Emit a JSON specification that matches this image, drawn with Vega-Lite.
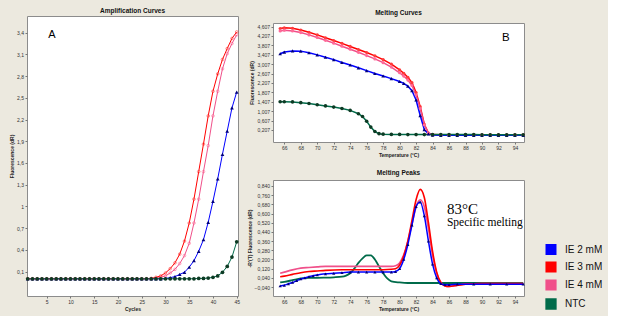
{
"$schema": "https://vega.github.io/schema/vega-lite/v6.json",
"background": "#ece9df",
"padding": {"left": 9, "top": 7, "right": 5, "bottom": 3},
"bounds": "flush",
"spacing": 35,
"datasets": {
"amp": [
{"s":"IE 4 mM","c":1,"v":0},{"s":"IE 4 mM","c":2,"v":0},{"s":"IE 4 mM","c":3,"v":0},{"s":"IE 4 mM","c":4,"v":0},{"s":"IE 4 mM","c":5,"v":0},{"s":"IE 4 mM","c":6,"v":0},{"s":"IE 4 mM","c":7,"v":0},{"s":"IE 4 mM","c":8,"v":0},{"s":"IE 4 mM","c":9,"v":0},{"s":"IE 4 mM","c":10,"v":0},
{"s":"IE 4 mM","c":11,"v":0},{"s":"IE 4 mM","c":12,"v":0},{"s":"IE 4 mM","c":13,"v":0},{"s":"IE 4 mM","c":14,"v":0},{"s":"IE 4 mM","c":15,"v":0},{"s":"IE 4 mM","c":16,"v":0},{"s":"IE 4 mM","c":17,"v":0},{"s":"IE 4 mM","c":18,"v":0},{"s":"IE 4 mM","c":19,"v":0},{"s":"IE 4 mM","c":20,"v":0},
{"s":"IE 4 mM","c":21,"v":0},{"s":"IE 4 mM","c":22,"v":0},{"s":"IE 4 mM","c":23,"v":0},{"s":"IE 4 mM","c":24,"v":0},{"s":"IE 4 mM","c":25,"v":0},{"s":"IE 4 mM","c":26,"v":0},{"s":"IE 4 mM","c":27,"v":0},{"s":"IE 4 mM","c":28,"v":0.005},{"s":"IE 4 mM","c":29,"v":0.02},{"s":"IE 4 mM","c":30,"v":0.04},
{"s":"IE 4 mM","c":31,"v":0.08},{"s":"IE 4 mM","c":32,"v":0.13},{"s":"IE 4 mM","c":33,"v":0.21},{"s":"IE 4 mM","c":34,"v":0.32},{"s":"IE 4 mM","c":35,"v":0.49},{"s":"IE 4 mM","c":36,"v":0.77},{"s":"IE 4 mM","c":37,"v":1.10},{"s":"IE 4 mM","c":38,"v":1.48},{"s":"IE 4 mM","c":39,"v":1.84},{"s":"IE 4 mM","c":40,"v":2.25},
{"s":"IE 4 mM","c":41,"v":2.59},{"s":"IE 4 mM","c":42,"v":2.90},{"s":"IE 4 mM","c":43,"v":3.11},{"s":"IE 4 mM","c":44,"v":3.25},{"s":"IE 4 mM","c":45,"v":3.37},
{"s":"IE 3 mM","c":1,"v":0},{"s":"IE 3 mM","c":2,"v":0},{"s":"IE 3 mM","c":3,"v":0},{"s":"IE 3 mM","c":4,"v":0},{"s":"IE 3 mM","c":5,"v":0},{"s":"IE 3 mM","c":6,"v":0},{"s":"IE 3 mM","c":7,"v":0},{"s":"IE 3 mM","c":8,"v":0},{"s":"IE 3 mM","c":9,"v":0},{"s":"IE 3 mM","c":10,"v":0},
{"s":"IE 3 mM","c":11,"v":0},{"s":"IE 3 mM","c":12,"v":0},{"s":"IE 3 mM","c":13,"v":0},{"s":"IE 3 mM","c":14,"v":0},{"s":"IE 3 mM","c":15,"v":0},{"s":"IE 3 mM","c":16,"v":0},{"s":"IE 3 mM","c":17,"v":0},{"s":"IE 3 mM","c":18,"v":0},{"s":"IE 3 mM","c":19,"v":0},{"s":"IE 3 mM","c":20,"v":0},
{"s":"IE 3 mM","c":21,"v":0},{"s":"IE 3 mM","c":22,"v":0},{"s":"IE 3 mM","c":23,"v":0},{"s":"IE 3 mM","c":24,"v":0},{"s":"IE 3 mM","c":25,"v":0},{"s":"IE 3 mM","c":26,"v":0},{"s":"IE 3 mM","c":27,"v":0.005},{"s":"IE 3 mM","c":28,"v":0.02},{"s":"IE 3 mM","c":29,"v":0.04},{"s":"IE 3 mM","c":30,"v":0.08},
{"s":"IE 3 mM","c":31,"v":0.14},{"s":"IE 3 mM","c":32,"v":0.22},{"s":"IE 3 mM","c":33,"v":0.34},{"s":"IE 3 mM","c":34,"v":0.52},{"s":"IE 3 mM","c":35,"v":0.77},{"s":"IE 3 mM","c":36,"v":1.10},{"s":"IE 3 mM","c":37,"v":1.48},{"s":"IE 3 mM","c":38,"v":1.86},{"s":"IE 3 mM","c":39,"v":2.25},{"s":"IE 3 mM","c":40,"v":2.59},
{"s":"IE 3 mM","c":41,"v":2.83},{"s":"IE 3 mM","c":42,"v":3.03},{"s":"IE 3 mM","c":43,"v":3.18},{"s":"IE 3 mM","c":44,"v":3.32},{"s":"IE 3 mM","c":45,"v":3.41},
{"s":"IE 2 mM","c":1,"v":0},{"s":"IE 2 mM","c":2,"v":0},{"s":"IE 2 mM","c":3,"v":0},{"s":"IE 2 mM","c":4,"v":0},{"s":"IE 2 mM","c":5,"v":0},{"s":"IE 2 mM","c":6,"v":0},{"s":"IE 2 mM","c":7,"v":0},{"s":"IE 2 mM","c":8,"v":0},{"s":"IE 2 mM","c":9,"v":0},{"s":"IE 2 mM","c":10,"v":0},
{"s":"IE 2 mM","c":11,"v":0},{"s":"IE 2 mM","c":12,"v":0},{"s":"IE 2 mM","c":13,"v":0},{"s":"IE 2 mM","c":14,"v":0},{"s":"IE 2 mM","c":15,"v":0},{"s":"IE 2 mM","c":16,"v":0},{"s":"IE 2 mM","c":17,"v":0},{"s":"IE 2 mM","c":18,"v":0},{"s":"IE 2 mM","c":19,"v":0},{"s":"IE 2 mM","c":20,"v":0},
{"s":"IE 2 mM","c":21,"v":0},{"s":"IE 2 mM","c":22,"v":0},{"s":"IE 2 mM","c":23,"v":0},{"s":"IE 2 mM","c":24,"v":0},{"s":"IE 2 mM","c":25,"v":0},{"s":"IE 2 mM","c":26,"v":0},{"s":"IE 2 mM","c":27,"v":0},{"s":"IE 2 mM","c":28,"v":0},{"s":"IE 2 mM","c":29,"v":0},{"s":"IE 2 mM","c":30,"v":0.005},
{"s":"IE 2 mM","c":31,"v":0.015},{"s":"IE 2 mM","c":32,"v":0.03},{"s":"IE 2 mM","c":33,"v":0.06},{"s":"IE 2 mM","c":34,"v":0.09},{"s":"IE 2 mM","c":35,"v":0.16},{"s":"IE 2 mM","c":36,"v":0.25},{"s":"IE 2 mM","c":37,"v":0.38},{"s":"IE 2 mM","c":38,"v":0.54},{"s":"IE 2 mM","c":39,"v":0.78},{"s":"IE 2 mM","c":40,"v":1.07},
{"s":"IE 2 mM","c":41,"v":1.38},{"s":"IE 2 mM","c":42,"v":1.72},{"s":"IE 2 mM","c":43,"v":2.04},{"s":"IE 2 mM","c":44,"v":2.36},{"s":"IE 2 mM","c":45,"v":2.58},
{"s":"NTC","c":1,"v":0},{"s":"NTC","c":2,"v":0},{"s":"NTC","c":3,"v":0},{"s":"NTC","c":4,"v":0},{"s":"NTC","c":5,"v":0},{"s":"NTC","c":6,"v":0},{"s":"NTC","c":7,"v":0},{"s":"NTC","c":8,"v":0},{"s":"NTC","c":9,"v":0},{"s":"NTC","c":10,"v":0},
{"s":"NTC","c":11,"v":0},{"s":"NTC","c":12,"v":0},{"s":"NTC","c":13,"v":0},{"s":"NTC","c":14,"v":0},{"s":"NTC","c":15,"v":0},{"s":"NTC","c":16,"v":0},{"s":"NTC","c":17,"v":0},{"s":"NTC","c":18,"v":0},{"s":"NTC","c":19,"v":0},{"s":"NTC","c":20,"v":0},
{"s":"NTC","c":21,"v":0},{"s":"NTC","c":22,"v":0},{"s":"NTC","c":23,"v":0},{"s":"NTC","c":24,"v":0},{"s":"NTC","c":25,"v":0},{"s":"NTC","c":26,"v":0},{"s":"NTC","c":27,"v":0},{"s":"NTC","c":28,"v":0},{"s":"NTC","c":29,"v":0},{"s":"NTC","c":30,"v":0},
{"s":"NTC","c":31,"v":0},{"s":"NTC","c":32,"v":0},{"s":"NTC","c":33,"v":0},{"s":"NTC","c":34,"v":0},{"s":"NTC","c":35,"v":0},{"s":"NTC","c":36,"v":0},{"s":"NTC","c":37,"v":0.005},{"s":"NTC","c":38,"v":0.005},{"s":"NTC","c":39,"v":0.01},{"s":"NTC","c":40,"v":0.02},
{"s":"NTC","c":41,"v":0.04},{"s":"NTC","c":42,"v":0.09},{"s":"NTC","c":43,"v":0.17},{"s":"NTC","c":44,"v":0.30},{"s":"NTC","c":45,"v":0.51}
],
"melt": [
{"s":"IE 3 mM","t":65.5,"v":4.52},{"s":"IE 3 mM","t":66,"v":4.55},{"s":"IE 3 mM","t":67,"v":4.53},{"s":"IE 3 mM","t":68,"v":4.46},{"s":"IE 3 mM","t":69,"v":4.36},{"s":"IE 3 mM","t":70,"v":4.25},{"s":"IE 3 mM","t":71,"v":4.13},{"s":"IE 3 mM","t":72,"v":4.01},{"s":"IE 3 mM","t":73,"v":3.89},{"s":"IE 3 mM","t":74,"v":3.76},
{"s":"IE 3 mM","t":75,"v":3.63},{"s":"IE 3 mM","t":76,"v":3.50},{"s":"IE 3 mM","t":77,"v":3.36},{"s":"IE 3 mM","t":78,"v":3.20},{"s":"IE 3 mM","t":79,"v":3.01},{"s":"IE 3 mM","t":80,"v":2.76},{"s":"IE 3 mM","t":80.5,"v":2.62},{"s":"IE 3 mM","t":81,"v":2.45},{"s":"IE 3 mM","t":81.5,"v":2.22},{"s":"IE 3 mM","t":82,"v":1.80},
{"s":"IE 3 mM","t":82.5,"v":1.20},{"s":"IE 3 mM","t":83,"v":0.45},{"s":"IE 3 mM","t":83.5,"v":0.08},{"s":"IE 3 mM","t":84,"v":0.01},{"s":"IE 3 mM","t":85,"v":0},{"s":"IE 3 mM","t":86,"v":0},{"s":"IE 3 mM","t":87,"v":0},{"s":"IE 3 mM","t":88,"v":0},{"s":"IE 3 mM","t":89,"v":0},{"s":"IE 3 mM","t":90,"v":0},
{"s":"IE 3 mM","t":91,"v":0},{"s":"IE 3 mM","t":92,"v":0},{"s":"IE 3 mM","t":93,"v":0},{"s":"IE 3 mM","t":94,"v":0},{"s":"IE 3 mM","t":95,"v":0},
{"s":"IE 4 mM","t":65.5,"v":4.42},{"s":"IE 4 mM","t":66,"v":4.45},{"s":"IE 4 mM","t":67,"v":4.42},{"s":"IE 4 mM","t":68,"v":4.35},{"s":"IE 4 mM","t":69,"v":4.25},{"s":"IE 4 mM","t":70,"v":4.14},{"s":"IE 4 mM","t":71,"v":4.02},{"s":"IE 4 mM","t":72,"v":3.90},{"s":"IE 4 mM","t":73,"v":3.77},{"s":"IE 4 mM","t":74,"v":3.64},
{"s":"IE 4 mM","t":75,"v":3.51},{"s":"IE 4 mM","t":76,"v":3.37},{"s":"IE 4 mM","t":77,"v":3.23},{"s":"IE 4 mM","t":78,"v":3.07},{"s":"IE 4 mM","t":79,"v":2.88},{"s":"IE 4 mM","t":80,"v":2.64},{"s":"IE 4 mM","t":80.5,"v":2.50},{"s":"IE 4 mM","t":81,"v":2.33},{"s":"IE 4 mM","t":81.5,"v":2.10},{"s":"IE 4 mM","t":82,"v":1.70},
{"s":"IE 4 mM","t":82.5,"v":1.12},{"s":"IE 4 mM","t":83,"v":0.42},{"s":"IE 4 mM","t":83.5,"v":0.08},{"s":"IE 4 mM","t":84,"v":0},{"s":"IE 4 mM","t":85,"v":-0.01},{"s":"IE 4 mM","t":86,"v":-0.01},{"s":"IE 4 mM","t":87,"v":-0.01},{"s":"IE 4 mM","t":88,"v":-0.01},{"s":"IE 4 mM","t":89,"v":-0.01},{"s":"IE 4 mM","t":90,"v":-0.01},
{"s":"IE 4 mM","t":91,"v":-0.01},{"s":"IE 4 mM","t":92,"v":-0.01},{"s":"IE 4 mM","t":93,"v":-0.01},{"s":"IE 4 mM","t":94,"v":-0.01},{"s":"IE 4 mM","t":95,"v":-0.01},
{"s":"IE 2 mM","t":65.5,"v":3.45},{"s":"IE 2 mM","t":66,"v":3.52},{"s":"IE 2 mM","t":67,"v":3.57},{"s":"IE 2 mM","t":68,"v":3.56},{"s":"IE 2 mM","t":69,"v":3.49},{"s":"IE 2 mM","t":70,"v":3.40},{"s":"IE 2 mM","t":71,"v":3.30},{"s":"IE 2 mM","t":72,"v":3.20},{"s":"IE 2 mM","t":73,"v":3.08},{"s":"IE 2 mM","t":74,"v":2.97},
{"s":"IE 2 mM","t":75,"v":2.85},{"s":"IE 2 mM","t":76,"v":2.73},{"s":"IE 2 mM","t":77,"v":2.61},{"s":"IE 2 mM","t":78,"v":2.50},{"s":"IE 2 mM","t":79,"v":2.39},{"s":"IE 2 mM","t":80,"v":2.27},{"s":"IE 2 mM","t":80.5,"v":2.19},{"s":"IE 2 mM","t":81,"v":2.07},{"s":"IE 2 mM","t":81.5,"v":1.88},{"s":"IE 2 mM","t":82,"v":1.48},
{"s":"IE 2 mM","t":82.5,"v":0.82},{"s":"IE 2 mM","t":83,"v":0.22},{"s":"IE 2 mM","t":83.5,"v":0.04},{"s":"IE 2 mM","t":84,"v":-0.01},{"s":"IE 2 mM","t":85,"v":-0.02},{"s":"IE 2 mM","t":86,"v":-0.02},{"s":"IE 2 mM","t":87,"v":-0.02},{"s":"IE 2 mM","t":88,"v":-0.02},{"s":"IE 2 mM","t":89,"v":-0.02},{"s":"IE 2 mM","t":90,"v":-0.02},
{"s":"IE 2 mM","t":91,"v":-0.02},{"s":"IE 2 mM","t":92,"v":-0.02},{"s":"IE 2 mM","t":93,"v":-0.02},{"s":"IE 2 mM","t":94,"v":-0.02},{"s":"IE 2 mM","t":95,"v":-0.02},
{"s":"NTC","t":65.5,"v":1.41},{"s":"NTC","t":66,"v":1.41},{"s":"NTC","t":67,"v":1.40},{"s":"NTC","t":68,"v":1.37},{"s":"NTC","t":69,"v":1.33},{"s":"NTC","t":70,"v":1.28},{"s":"NTC","t":71,"v":1.23},{"s":"NTC","t":72,"v":1.18},{"s":"NTC","t":73,"v":1.12},{"s":"NTC","t":74,"v":1.04},
{"s":"NTC","t":75,"v":0.90},{"s":"NTC","t":75.5,"v":0.78},{"s":"NTC","t":76,"v":0.58},{"s":"NTC","t":76.5,"v":0.33},{"s":"NTC","t":77,"v":0.14},{"s":"NTC","t":77.5,"v":0.05},{"s":"NTC","t":78,"v":0.03},{"s":"NTC","t":79,"v":0.02},{"s":"NTC","t":80,"v":0.02},{"s":"NTC","t":81,"v":0.01},
{"s":"NTC","t":82,"v":0.01},{"s":"NTC","t":83,"v":0.01},{"s":"NTC","t":84,"v":0.01},{"s":"NTC","t":85,"v":0.01},{"s":"NTC","t":86,"v":0.01},{"s":"NTC","t":87,"v":0.01},{"s":"NTC","t":88,"v":0.01},{"s":"NTC","t":89,"v":0.01},{"s":"NTC","t":90,"v":0},{"s":"NTC","t":91,"v":0},
{"s":"NTC","t":92,"v":0},{"s":"NTC","t":93,"v":0},{"s":"NTC","t":94,"v":0},{"s":"NTC","t":95,"v":0}
],
"peak": [
{"s":"NTC","t":65.5,"v":0},{"s":"NTC","t":66,"v":0.005},{"s":"NTC","t":67,"v":0.02},{"s":"NTC","t":68,"v":0.035},{"s":"NTC","t":69,"v":0.04},{"s":"NTC","t":70,"v":0.04},{"s":"NTC","t":71,"v":0.042},{"s":"NTC","t":72,"v":0.045},{"s":"NTC","t":73,"v":0.05},{"s":"NTC","t":73.5,"v":0.06},
{"s":"NTC","t":74,"v":0.08},{"s":"NTC","t":74.5,"v":0.12},{"s":"NTC","t":75,"v":0.17},{"s":"NTC","t":75.5,"v":0.21},{"s":"NTC","t":76,"v":0.235},{"s":"NTC","t":76.5,"v":0.235},{"s":"NTC","t":77,"v":0.2},{"s":"NTC","t":77.5,"v":0.14},{"s":"NTC","t":78,"v":0.08},{"s":"NTC","t":78.5,"v":0.035},
{"s":"NTC","t":79,"v":0.01},{"s":"NTC","t":80,"v":0},{"s":"NTC","t":81,"v":-0.005},{"s":"NTC","t":83,"v":-0.005},{"s":"NTC","t":85,"v":-0.005},{"s":"NTC","t":87,"v":-0.005},{"s":"NTC","t":89,"v":-0.005},{"s":"NTC","t":91,"v":-0.005},{"s":"NTC","t":93,"v":-0.005},{"s":"NTC","t":95,"v":-0.005},
{"s":"IE 4 mM","t":65.5,"v":0.08},{"s":"IE 4 mM","t":66,"v":0.09},{"s":"IE 4 mM","t":67,"v":0.11},{"s":"IE 4 mM","t":68,"v":0.125},{"s":"IE 4 mM","t":69,"v":0.13},{"s":"IE 4 mM","t":70,"v":0.135},{"s":"IE 4 mM","t":71,"v":0.14},{"s":"IE 4 mM","t":73,"v":0.14},{"s":"IE 4 mM","t":75,"v":0.14},{"s":"IE 4 mM","t":77,"v":0.14},
{"s":"IE 4 mM","t":79,"v":0.14},{"s":"IE 4 mM","t":79.5,"v":0.145},{"s":"IE 4 mM","t":80,"v":0.17},{"s":"IE 4 mM","t":80.5,"v":0.24},{"s":"IE 4 mM","t":81,"v":0.36},{"s":"IE 4 mM","t":81.5,"v":0.51},{"s":"IE 4 mM","t":82,"v":0.66},{"s":"IE 4 mM","t":82.5,"v":0.72},{"s":"IE 4 mM","t":83,"v":0.66},{"s":"IE 4 mM","t":83.5,"v":0.47},
{"s":"IE 4 mM","t":84,"v":0.24},{"s":"IE 4 mM","t":84.5,"v":0.08},{"s":"IE 4 mM","t":85,"v":0},{"s":"IE 4 mM","t":85.5,"v":-0.03},{"s":"IE 4 mM","t":86,"v":-0.035},{"s":"IE 4 mM","t":87,"v":-0.025},{"s":"IE 4 mM","t":88,"v":-0.015},{"s":"IE 4 mM","t":90,"v":-0.01},{"s":"IE 4 mM","t":92,"v":-0.01},{"s":"IE 4 mM","t":95,"v":-0.01},
{"s":"IE 3 mM","t":65.5,"v":0.05},{"s":"IE 3 mM","t":66,"v":0.055},{"s":"IE 3 mM","t":67,"v":0.07},{"s":"IE 3 mM","t":68,"v":0.085},{"s":"IE 3 mM","t":69,"v":0.095},{"s":"IE 3 mM","t":70,"v":0.10},{"s":"IE 3 mM","t":71,"v":0.105},{"s":"IE 3 mM","t":73,"v":0.11},{"s":"IE 3 mM","t":75,"v":0.11},{"s":"IE 3 mM","t":77,"v":0.11},
{"s":"IE 3 mM","t":79,"v":0.115},{"s":"IE 3 mM","t":79.5,"v":0.12},{"s":"IE 3 mM","t":80,"v":0.15},{"s":"IE 3 mM","t":80.5,"v":0.23},{"s":"IE 3 mM","t":81,"v":0.36},{"s":"IE 3 mM","t":81.5,"v":0.54},{"s":"IE 3 mM","t":82,"v":0.72},{"s":"IE 3 mM","t":82.5,"v":0.81},{"s":"IE 3 mM","t":83,"v":0.74},{"s":"IE 3 mM","t":83.5,"v":0.52},
{"s":"IE 3 mM","t":84,"v":0.27},{"s":"IE 3 mM","t":84.5,"v":0.09},{"s":"IE 3 mM","t":85,"v":0},{"s":"IE 3 mM","t":85.5,"v":-0.03},{"s":"IE 3 mM","t":86,"v":-0.035},{"s":"IE 3 mM","t":87,"v":-0.025},{"s":"IE 3 mM","t":88,"v":-0.015},{"s":"IE 3 mM","t":90,"v":-0.01},{"s":"IE 3 mM","t":92,"v":-0.01},{"s":"IE 3 mM","t":95,"v":-0.01},
{"s":"IE 2 mM","t":65.5,"v":-0.03},{"s":"IE 2 mM","t":66,"v":-0.025},{"s":"IE 2 mM","t":66.5,"v":-0.012},{"s":"IE 2 mM","t":67,"v":0},{"s":"IE 2 mM","t":67.5,"v":0.015},{"s":"IE 2 mM","t":68,"v":0.03},{"s":"IE 2 mM","t":68.5,"v":0.04},{"s":"IE 2 mM","t":69,"v":0.05},{"s":"IE 2 mM","t":69.5,"v":0.058},{"s":"IE 2 mM","t":70,"v":0.065},
{"s":"IE 2 mM","t":71,"v":0.075},{"s":"IE 2 mM","t":72,"v":0.08},{"s":"IE 2 mM","t":73,"v":0.085},{"s":"IE 2 mM","t":74,"v":0.09},{"s":"IE 2 mM","t":75,"v":0.09},{"s":"IE 2 mM","t":76,"v":0.09},{"s":"IE 2 mM","t":77,"v":0.09},{"s":"IE 2 mM","t":78,"v":0.09},{"s":"IE 2 mM","t":79,"v":0.09},{"s":"IE 2 mM","t":79.5,"v":0.095},
{"s":"IE 2 mM","t":80,"v":0.12},{"s":"IE 2 mM","t":80.5,"v":0.2},{"s":"IE 2 mM","t":81,"v":0.33},{"s":"IE 2 mM","t":81.5,"v":0.5},{"s":"IE 2 mM","t":82,"v":0.66},{"s":"IE 2 mM","t":82.5,"v":0.70},{"s":"IE 2 mM","t":83,"v":0.58},{"s":"IE 2 mM","t":83.5,"v":0.36},{"s":"IE 2 mM","t":84,"v":0.16},{"s":"IE 2 mM","t":84.5,"v":0.04},
{"s":"IE 2 mM","t":85,"v":-0.01},{"s":"IE 2 mM","t":85.5,"v":-0.02},{"s":"IE 2 mM","t":86,"v":-0.02},{"s":"IE 2 mM","t":87,"v":-0.015},{"s":"IE 2 mM","t":89,"v":-0.015},{"s":"IE 2 mM","t":91,"v":-0.015},{"s":"IE 2 mM","t":93,"v":-0.015},{"s":"IE 2 mM","t":95,"v":-0.015}
]
},
"hconcat": [
{
"width": 211, "height": 280,
"title": {"text": "Amplification Curves", "offset": 2},
"data": {"name": "amp"},
"layer": [
{"mark": {"type": "line", "strokeWidth": 1},
 "encoding": {
  "x": {"field": "c", "type": "quantitative", "scale": {"domain": [0.85, 45.27], "nice": false, "zero": false}, "axis": {"values": [5,10,15,20,25,30,35,40,45], "tickCount": 100, "format": "d", "title": "Cycles", "labelOverlap": false, "labelFlush": false}},
  "y": {"field": "v", "type": "quantitative", "scale": {"domain": [-0.238, 3.63], "nice": false, "zero": false}, "axis": {"values": [0.1,0.4,0.7,1,1.3,1.6,1.9,2.2,2.5,2.8,3.1,3.4], "tickCount": 100, "title": "Fluorescence (dR)", "labelOverlap": false, "labelFlush": false, "labelExpr": "replace(format(datum.value, '.1~f'), '.', ',')"}},
  "color": {"field": "s", "type": "nominal",
   "scale": {"domain": ["IE 2 mM","IE 3 mM","IE 4 mM","NTC"], "range": ["#0000ff","#ff0000","#f0508a","#006b4a"]},
   "legend": {"orient": "none", "legendX": 518, "legendY": 228, "title": null, "symbolType": "square", "symbolSize": 90, "symbolStrokeWidth": 0, "labelFontSize": 10, "labelColor": "#111", "rowPadding": 1, "labelOffset": 8, "padding": 0,
    "encode": {"symbols": {"update": {"fill": {"scale": "color", "field": "value"}, "fillOpacity": {"value": 1}, "shape": {"value": "square"}}}}}}
 }},
{"transform": [{"filter": "datum.s == 'IE 4 mM'"}],
 "mark": {"type": "point", "filled": false, "size": 7, "strokeWidth": 0.8, "color": "#ff5a8a", "shape": "circle"},
 "encoding": {"x": {"field": "c", "type": "quantitative"}, "y": {"field": "v", "type": "quantitative"}}},
{"transform": [{"filter": "datum.s == 'IE 3 mM'"}],
 "mark": {"type": "point", "filled": false, "size": 7, "strokeWidth": 0.8, "color": "#ff3030", "shape": "circle"},
 "encoding": {"x": {"field": "c", "type": "quantitative"}, "y": {"field": "v", "type": "quantitative"}}},
{"transform": [{"filter": "datum.s == 'IE 2 mM'"}],
 "mark": {"type": "point", "filled": true, "size": 14, "color": "#00007a", "shape": "triangle-up", "opacity": 1},
 "encoding": {"x": {"field": "c", "type": "quantitative"}, "y": {"field": "v", "type": "quantitative"}}},
{"transform": [{"filter": "datum.s == 'NTC'"}],
 "mark": {"type": "point", "filled": true, "size": 14, "color": "#0d3b24", "shape": "circle", "opacity": 1},
 "encoding": {"x": {"field": "c", "type": "quantitative"}, "y": {"field": "v", "type": "quantitative"}}},
{"data": {"values": [{"c": 6.1, "v": 3.33, "label": "A"}]},
 "mark": {"type": "text", "fontSize": 11, "align": "center", "baseline": "alphabetic", "color": "#000"},
 "encoding": {"x": {"field": "c", "type": "quantitative"}, "y": {"field": "v", "type": "quantitative"}, "text": {"field": "label"}}}
]
},
{
"bounds": "flush",
"spacing": 6,
"vconcat": [
{"width": 1, "height": 1, "data": {"values": []}, "mark": "point", "view": {"stroke": null, "fill": null}},
{
"bounds": "flush",
"spacing": 38,
"vconcat": [
{
"width": 251, "height": 119,
"title": {"text": "Melting Curves", "offset": 7},
"data": {"name": "melt"},
"layer": [
{"mark": {"type": "line", "strokeWidth": 1.5},
 "encoding": {
  "x": {"field": "t", "type": "quantitative", "scale": {"domain": [64.63, 95.1], "nice": false, "zero": false}, "axis": {"values": [66,68,70,72,74,76,78,80,82,84,86,88,90,92,94], "tickCount": 100, "format": "d", "title": "Temperature (°C)", "labelOverlap": false, "labelFlush": false}},
  "y": {"field": "v", "type": "quantitative", "scale": {"domain": [-0.304, 4.756], "nice": false, "zero": false}, "axis": {"values": [0.207,0.607,1.007,1.407,1.807,2.207,2.607,3.007,3.407,3.807,4.207,4.607], "tickCount": 100, "title": "Fluorescence (dR)", "labelOverlap": false, "labelFlush": false, "labelExpr": "replace(format(datum.value, '.3f'), '.', ',')"}},
  "color": {"field": "s", "type": "nominal",
   "legend": {"orient": "none", "legendX": 518, "legendY": 228, "title": null, "symbolType": "square", "symbolSize": 90, "symbolStrokeWidth": 0, "labelFontSize": 10, "labelColor": "#111", "rowPadding": 1, "labelOffset": 8, "padding": 0,
    "encode": {"symbols": {"update": {"fill": {"scale": "color", "field": "value"}, "fillOpacity": {"value": 1}, "shape": {"value": "square"}}}}}}
 }},
{"transform": [{"filter": "datum.s == 'IE 3 mM'"}],
 "mark": {"type": "point", "filled": true, "size": 10, "color": "#ff3a3a", "shape": "circle", "opacity": 1},
 "encoding": {"x": {"field": "t", "type": "quantitative"}, "y": {"field": "v", "type": "quantitative"}}},
{"transform": [{"filter": "datum.s == 'IE 4 mM'"}],
 "mark": {"type": "point", "filled": true, "size": 10, "color": "#ff6a98", "shape": "circle", "opacity": 1},
 "encoding": {"x": {"field": "t", "type": "quantitative"}, "y": {"field": "v", "type": "quantitative"}}},
{"transform": [{"filter": "datum.s == 'IE 2 mM'"}],
 "mark": {"type": "point", "filled": true, "size": 13, "color": "#00007a", "shape": "triangle-up", "opacity": 1},
 "encoding": {"x": {"field": "t", "type": "quantitative"}, "y": {"field": "v", "type": "quantitative"}}},
{"transform": [{"filter": "datum.s == 'NTC'"}],
 "mark": {"type": "point", "filled": true, "size": 13, "color": "#0d3b24", "shape": "circle", "opacity": 1},
 "encoding": {"x": {"field": "t", "type": "quantitative"}, "y": {"field": "v", "type": "quantitative"}}},
{"data": {"values": [{"t": 92.9, "v": 3.99, "label": "B"}]},
 "mark": {"type": "text", "fontSize": 11.5, "align": "center", "baseline": "alphabetic", "color": "#000"},
 "encoding": {"x": {"field": "t", "type": "quantitative"}, "y": {"field": "v", "type": "quantitative"}, "text": {"field": "label"}}}
]
},
{
"width": 251, "height": 116,
"title": {"text": "Melting Peaks", "offset": 4},
"data": {"name": "peak"},
"layer": [
{"mark": {"type": "line", "interpolate": "monotone"},
 "encoding": {
  "x": {"field": "t", "type": "quantitative", "scale": {"domain": [64.63, 95.1], "nice": false, "zero": false}, "axis": {"values": [66,68,70,72,74,76,78,80,82,84,86,88,90,92,94], "tickCount": 100, "format": "d", "title": "Temperature (°C)", "labelOverlap": false, "labelFlush": false}},
  "y": {"field": "v", "type": "quantitative", "scale": {"domain": [-0.118, 0.892], "nice": false, "zero": false}, "axis": {"values": [-0.04,0.04,0.12,0.2,0.28,0.36,0.44,0.52,0.6,0.68,0.76,0.84], "tickCount": 100, "title": "-R'(T) Fluorescence (dR)", "labelOverlap": false, "labelFlush": false, "labelExpr": "replace(format(datum.value, '.3f'), '.', ',')"}},
  "color": {"field": "s", "type": "nominal",
   "legend": {"orient": "none", "legendX": 518, "legendY": 228, "title": null, "symbolType": "square", "symbolSize": 90, "symbolStrokeWidth": 0, "labelFontSize": 10, "labelColor": "#111", "rowPadding": 1, "labelOffset": 8, "padding": 0,
    "encode": {"symbols": {"update": {"fill": {"scale": "color", "field": "value"}, "fillOpacity": {"value": 1}, "shape": {"value": "square"}}}}}},
  "strokeWidth": {"field": "s", "type": "nominal", "scale": {"domain": ["IE 2 mM","IE 3 mM","IE 4 mM","NTC"], "range": [1.5, 1.8, 3, 3]}, "legend": null}
 }},
{"transform": [{"filter": "datum.s == 'IE 2 mM'"}],
 "mark": {"type": "point", "filled": true, "size": 10, "color": "#00007a", "shape": "triangle-up", "opacity": 1},
 "encoding": {"x": {"field": "t", "type": "quantitative"}, "y": {"field": "v", "type": "quantitative"}}},
{"data": {"values": [{"t": 85.75, "v": 0.593, "label": "83°C"}]},
 "mark": {"type": "text", "fontSize": 15, "font": "Liberation Serif", "align": "left", "baseline": "alphabetic", "color": "#000"},
 "encoding": {"x": {"field": "t", "type": "quantitative"}, "y": {"field": "v", "type": "quantitative"}, "text": {"field": "label"}}},
{"data": {"values": [{"t": 85.75, "v": 0.489, "label": "Specific melting"}]},
 "mark": {"type": "text", "fontSize": 11.5, "font": "Liberation Serif", "align": "left", "baseline": "alphabetic", "color": "#000"},
 "encoding": {"x": {"field": "t", "type": "quantitative"}, "y": {"field": "v", "type": "quantitative"}, "text": {"field": "label"}}}
]
}
]
}
]
}
],
"config": {
 "font": "Liberation Sans",
 "view": {"stroke": "#8c8c8c", "strokeWidth": 1, "fill": "#ffffff"},
 "axis": {"grid": false, "domain": false, "tickSize": 2, "tickColor": "#777777", "labelFontSize": 5, "labelColor": "#333333", "labelPadding": 1.5, "labelOverlap": false, "labelFlush": false, "labelBound": false, "titleFontSize": 5, "titleFontWeight": "bold", "titleColor": "#222222", "titlePadding": 2, "labelFont": "Liberation Sans", "titleFont": "Liberation Sans"},
 "title": {"fontSize": 6.5, "fontWeight": "bold", "color": "#111111", "font": "Liberation Sans"}
}
}
